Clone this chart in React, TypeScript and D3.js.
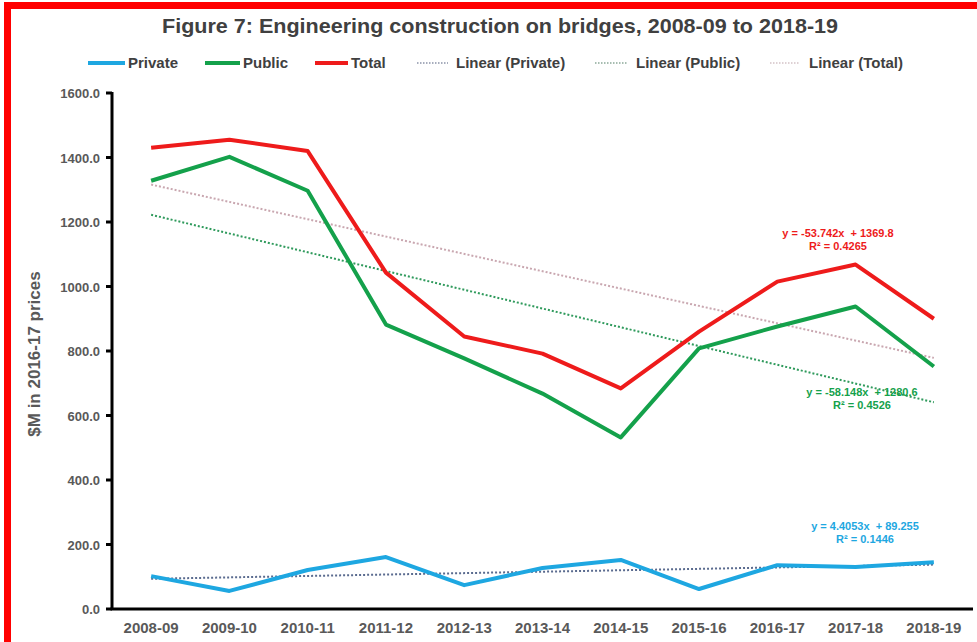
import React from "react";
import * as d3 from "d3";

const categories = ["2008-09", "2009-10", "2010-11", "2011-12", "2012-13", "2013-14", "2014-15", "2015-16", "2016-17", "2017-18", "2018-19"];
const privateValues = [102, 56, 121, 161, 74, 127, 152, 62, 136, 130, 145];
const publicValues = [1328, 1402, 1297, 882, 777, 668, 532, 808, 876, 938, 752];
const totalValues = [1430, 1455, 1420, 1043, 845, 792, 684, 860, 1015, 1068, 900];
const yTicks = [0, 200, 400, 600, 800, 1000, 1200, 1400, 1600];

const seriesNames = ["Private", "Public", "Total"];
const trendSlopes = [4.4053, -58.148, -53.742];
const trendIntercepts = [89.255, 1280.6, 1369.8];
const trendEquations = ["y = 4.4053x  + 89.255", "y = -58.148x  + 1280.6", "y = -53.742x  + 1369.8"];
const trendR2 = ["R² = 0.1446", "R² = 0.4526", "R² = 0.4265"];

const W = 977;
const H = 642;
const M = { left: 112, right: 973, top: 93, bottom: 609 };

export default function App() {
  const x = d3.scaleBand<string>().domain(categories).range([M.left, M.right]).paddingInner(0).paddingOuter(0);
  const cx = (c: string) => (x(c) as number) + x.bandwidth() / 2;
  const y = d3.scaleLinear().domain([0, 1600]).range([M.bottom, M.top]);

  const seriesValues = [privateValues, publicValues, totalValues];
  const colors = ["#1ea7e1", "#14a14b", "#ee1b1b"];
  const trendColors = ["#5a6b8f", "#2f9a5c", "#c9a7b0"];
  const legendTrendColors = ["#8a93a8", "#8aa898", "#d4c2c6"];

  const line = d3
    .line<number>()
    .x((_, i) => cx(categories[i]))
    .y((d) => y(d));

  const trendPoint = (s: number, i: number) => trendSlopes[s] * (i + 1) + trendIntercepts[s];

  const eqPos = [
    { x: 865, y: 530 },
    { x: 862, y: 396 },
    { x: 838, y: 237 },
  ];

  const legendItems = [
    { x1: 88, x2: 125, tx: 128, label: "Private", s: 0, trend: false },
    { x1: 205, x2: 240, tx: 243, label: "Public", s: 1, trend: false },
    { x1: 315, x2: 348, tx: 351, label: "Total", s: 2, trend: false },
    { x1: 417, x2: 448, tx: 456, label: "Linear (Private)", s: 0, trend: true },
    { x1: 595, x2: 627, tx: 636, label: "Linear (Public)", s: 1, trend: true },
    { x1: 770, x2: 800, tx: 809, label: "Linear (Total)", s: 2, trend: true },
  ];

  const font = "'Liberation Sans', Arial, sans-serif";

  return (
    <svg width={W} height={H} style={{ position: "absolute", left: 0, top: 0, background: "#fff" }} fontFamily={font}>
      <rect x={0} y={0} width={W} height={H} fill="#ffffff" />
      {/* red frame */}
      <rect x={4} y={2} width={W - 4} height={7} fill="#ff0000" />
      <rect x={4} y={2} width={7} height={H - 2} fill="#ff0000" />

      <text x={500} y={33} textAnchor="middle" fontSize={21} fontWeight="bold" fill="#404040" textLength={676} lengthAdjust="spacingAndGlyphs">
        Figure 7: Engineering construction on bridges, 2008-09 to 2018-19
      </text>

      {/* legend */}
      {legendItems.map((it, i) => (
        <g key={i}>
          <line
            x1={it.x1}
            x2={it.x2}
            y1={63}
            y2={63}
            stroke={it.trend ? legendTrendColors[it.s] : colors[it.s]}
            strokeWidth={it.trend ? 1.5 : 4}
            strokeDasharray={it.trend ? "1.5,1.5" : undefined}
          />
          <text x={it.tx} y={68} fontSize={15} fontWeight="bold" fill="#404040">
            {it.label}
          </text>
        </g>
      ))}

      {/* y axis ticks and labels */}
      {yTicks.map((t) => (
        <g key={t}>
          <line x1={M.left - 6} x2={M.left} y1={y(t)} y2={y(t)} stroke="#000" strokeWidth={3} />
          <text x={100} y={y(t) + 5} textAnchor="end" fontSize={13} fontWeight="bold" fill="#595959">
            {t.toFixed(1)}
          </text>
        </g>
      ))}
      <text
        transform={`translate(40,354) rotate(-90)`}
        textAnchor="middle"
        fontSize={17}
        fontWeight="bold"
        fill="#595959"
      >
        $M in 2016-17 prices
      </text>

      {/* x labels */}
      {categories.map((c) => (
        <text key={c} x={cx(c)} y={633} textAnchor="middle" fontSize={15} fontWeight="bold" fill="#595959">
          {c}
        </text>
      ))}

      {/* trend lines */}
      {[0, 1, 2].map((s) => (
        <line
          key={"t" + s}
          x1={cx(categories[0])}
          x2={cx(categories[categories.length - 1])}
          y1={y(trendPoint(s, 0))}
          y2={y(trendPoint(s, categories.length - 1))}
          stroke={trendColors[s]}
          strokeWidth={2}
          strokeDasharray="2,2"
        />
      ))}

      {/* series lines */}
      {[0, 1, 2].map((s) => (
        <path
          key={"s" + s}
          d={line(seriesValues[s]) || ""}
          fill="none"
          stroke={colors[s]}
          strokeWidth={4}
          strokeLinejoin="round"
        />
      ))}

      {/* equations */}
      {[0, 1, 2].map((s) => (
        <g key={"e" + s}>
          <text x={eqPos[s].x} y={eqPos[s].y} textAnchor="middle" fontSize={11} fontWeight="bold" fill={colors[s]} style={{ whiteSpace: "pre" }}>
            {trendEquations[s]}
          </text>
          <text x={eqPos[s].x} y={eqPos[s].y + 13} textAnchor="middle" fontSize={11} fontWeight="bold" fill={colors[s]}>
            {trendR2[s]}
          </text>
        </g>
      ))}

      {/* axes */}
      <line x1={M.left} x2={M.left} y1={M.top - 1} y2={M.bottom} stroke="#000" strokeWidth={3} />
      <line x1={M.left - 1.5} x2={M.right} y1={M.bottom} y2={M.bottom} stroke="#000" strokeWidth={3} />
    </svg>
  );
}
